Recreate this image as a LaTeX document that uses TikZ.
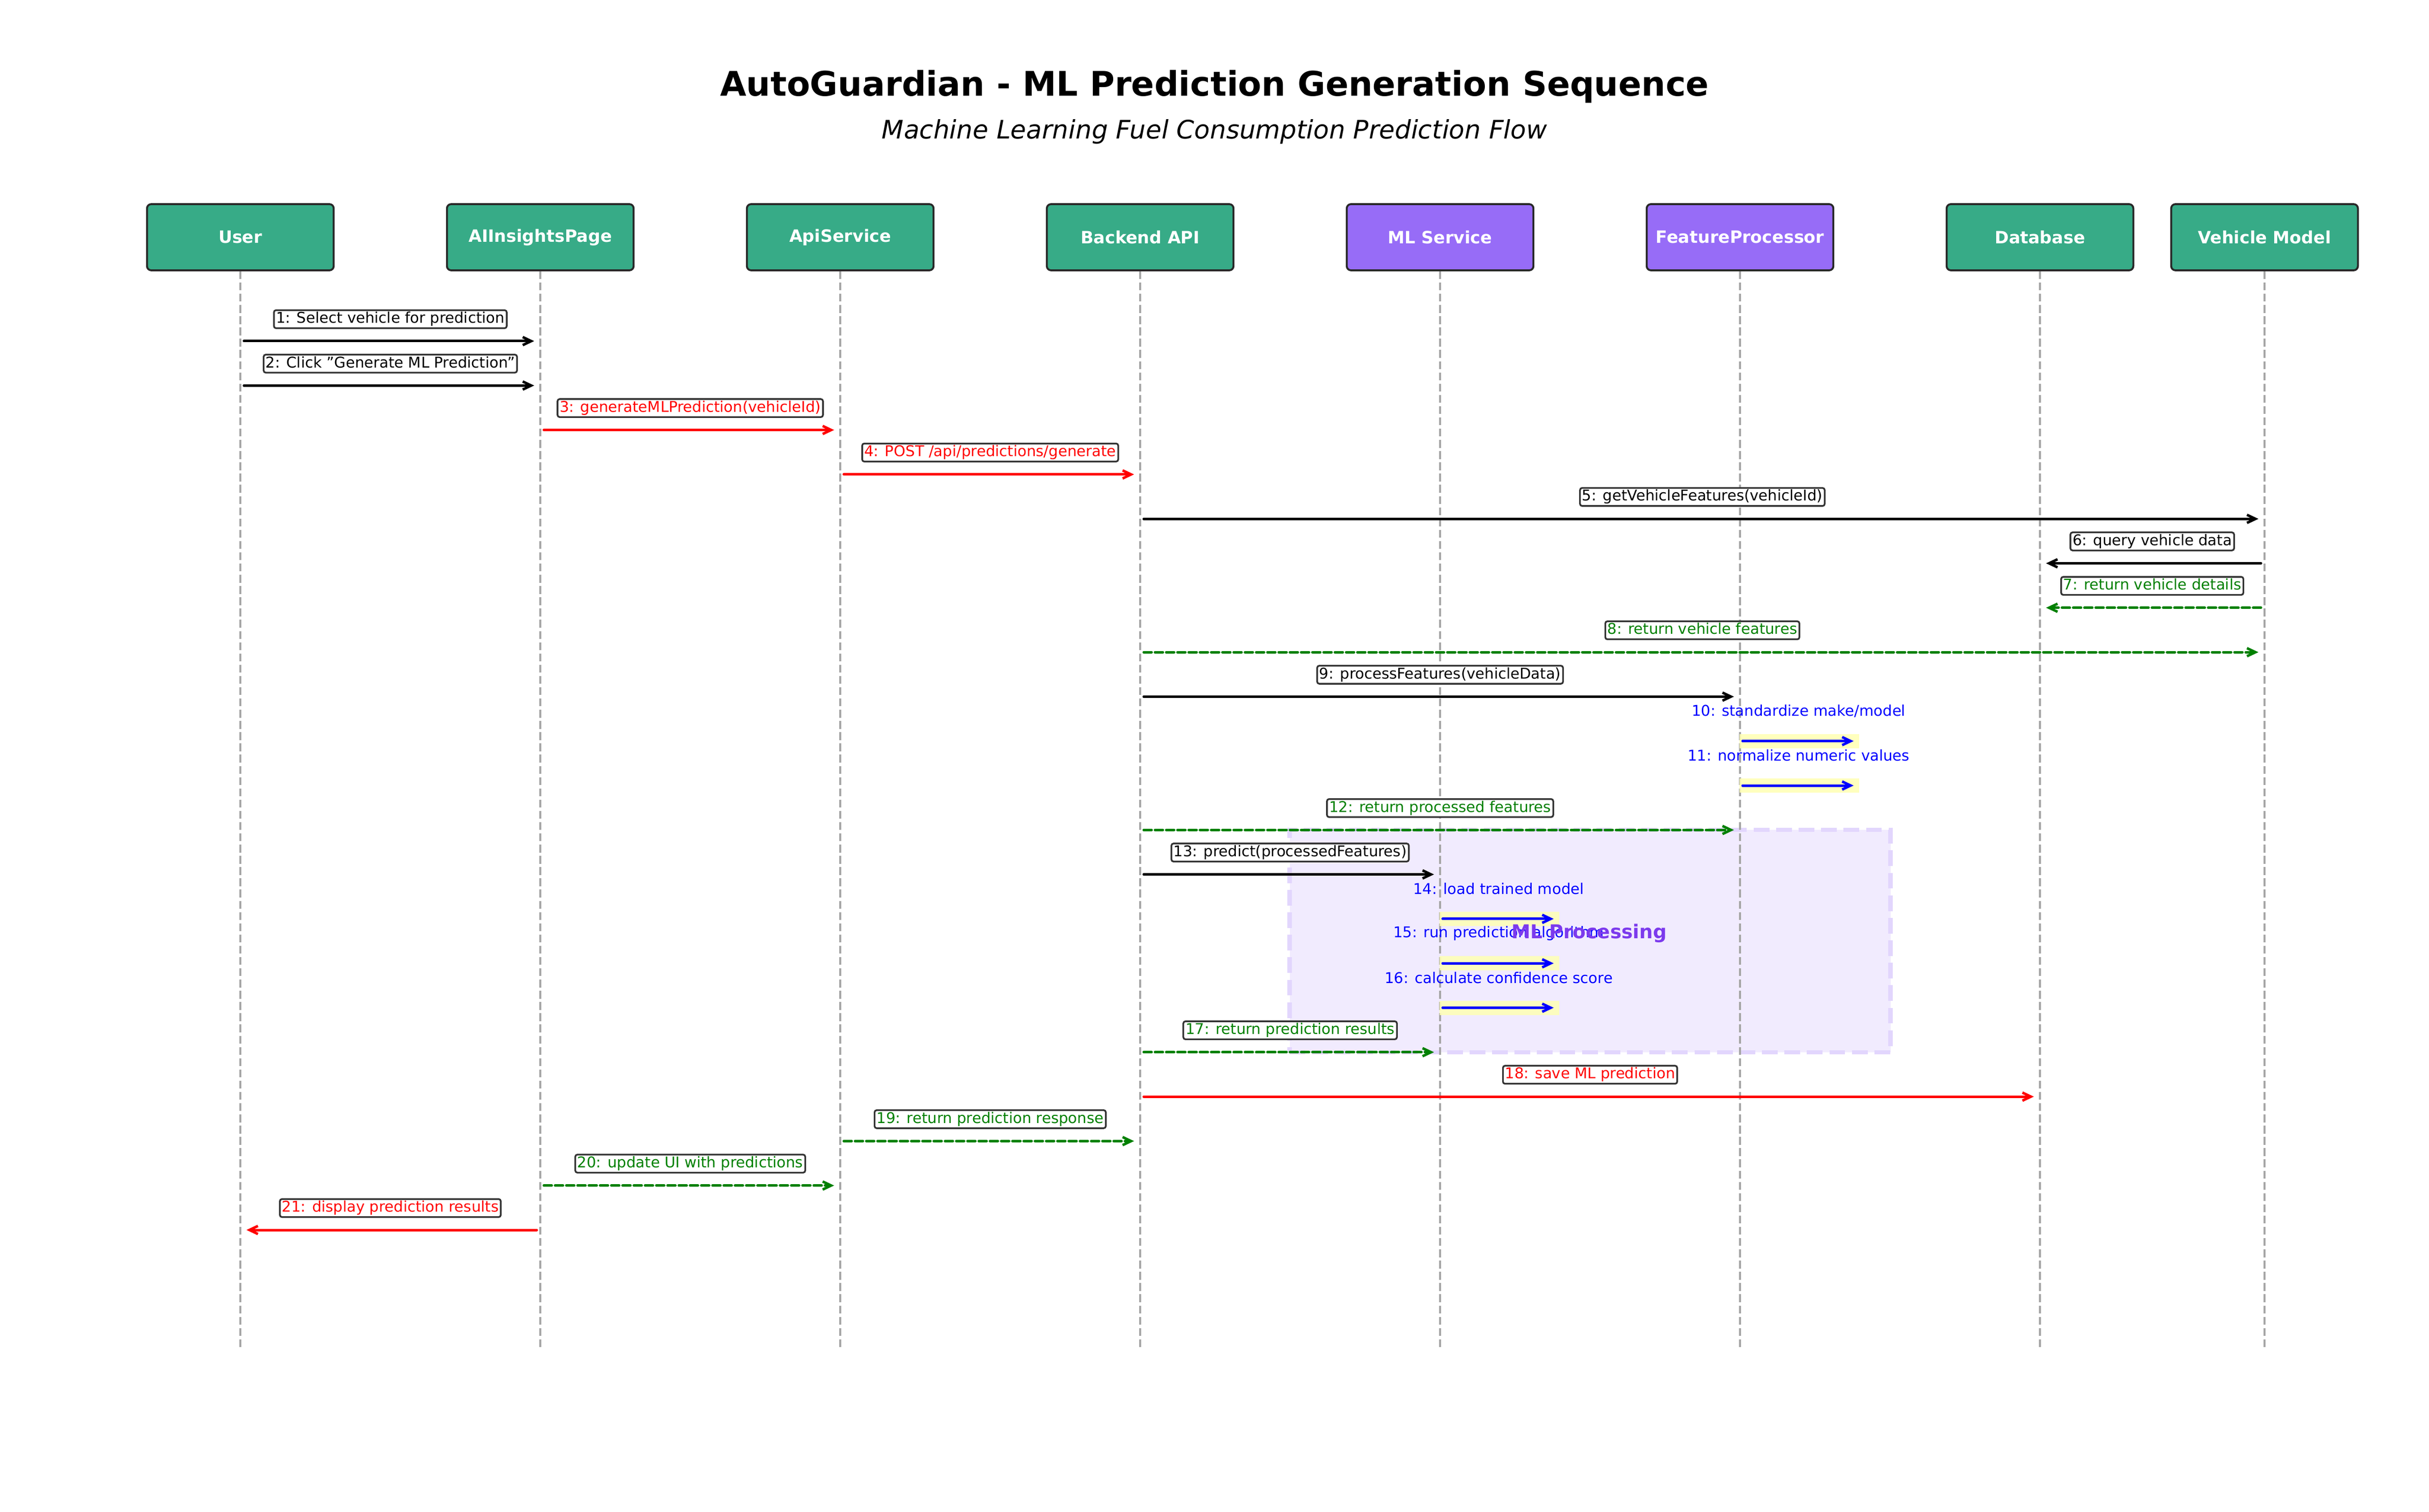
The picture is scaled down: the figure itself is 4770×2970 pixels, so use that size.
\documentclass[tikz,border=0pt]{standalone}
\usepackage{fontspec}
\setmainfont{DejaVu Sans}[BoldFont={DejaVu Sans Bold},ItalicFont={DejaVu Sans Oblique},BoldItalicFont={DejaVu Sans Bold Oblique}]
\usetikzlibrary{arrows.meta}
\definecolor{pgreen}{RGB}{55,171,135}
\definecolor{ppurple}{RGB}{151,108,247}
\definecolor{boxedge}{RGB}{40,40,40}
\definecolor{lifegray}{RGB}{166,166,166}
\definecolor{retgreen}{RGB}{0,128,0}
\definecolor{callred}{RGB}{255,0,0}
\definecolor{selfblue}{RGB}{0,0,255}
\definecolor{labeledge}{RGB}{51,51,51}
\definecolor{mlpurple}{RGB}{139,92,246}
\definecolor{mltext}{RGB}{124,58,237}
\definecolor{hlyellow}{RGB}{255,255,179}

\newcommand\seqmsg[7]{% id, src x, dst x, y, colour, extra style, text
  \pgfmathsetmacro\msgsg{ifthenelse(#3>#2,1,-1)}%
  \pgfmathsetmacro\msgxa{#2+7*\msgsg}%
  \pgfmathsetmacro\msgxb{#3-12*\msgsg}%
  \pgfmathsetmacro\msgxm{(#2+#3)/2}%
  \pgfmathsetmacro\msgyl{#4-43}%
  \coordinate (m#1a) at (\msgxa,#4);%
  \coordinate (m#1b) at (\msgxb,#4);%
  \draw[msgline,draw=#5,#6] (m#1a) -- (m#1b);%
  \node[lbl,text=#5] (t#1) at (\msgxm,\msgyl) {#7};%
}
\newcommand\selfmsg[4]{% id, lifeline x, y, text
  \pgfmathsetmacro\smxa{#2+5}%
  \pgfmathsetmacro\smxb{#2+223}%
  \pgfmathsetmacro\smra{#2-1}%
  \pgfmathsetmacro\smrb{#2+234}%
  \pgfmathsetmacro\smya{#3-14}%
  \pgfmathsetmacro\smyb{#3+14}%
  \pgfmathsetmacro\smlx{#2+115}%
  \pgfmathsetmacro\smly{#3-59}%
  \fill[hlrect] (\smra,\smya) rectangle (\smrb,\smyb);%
  \coordinate (s#1a) at (\smxa,#3);%
  \coordinate (s#1b) at (\smxb,#3);%
  \draw[msgline,draw=selfblue] (s#1a) -- (s#1b);%
  \node[slbl] (t#1) at (\smlx,\smly) {#4};%
}

\begin{document}
\begin{tikzpicture}[x=0.24pt,y=-0.24pt,
  pbox/.style={draw=boxedge,line width=0.9pt,rounded corners=2pt,minimum width=88pt,minimum height=31.2pt,inner sep=0pt,text=white,font=\fontsize{8}{9.6}\selectfont\bfseries},
  lifeline/.style={draw=lifegray,line width=0.85pt,dash pattern=on 3.7pt off 1.6pt},
  msgline/.style={line width=1.2pt,line cap=round,-{Straight Barb[length=4pt,width=3.8pt]}},
  retdash/.style={dash pattern=on 3.7pt off 1.6pt},
  lbl/.style={draw=labeledge,line width=0.8pt,fill=white,rounded corners=1pt,inner xsep=1pt,inner ysep=0.8pt,text height=5.3pt,text depth=1.6pt,font=\fontsize{7}{8}\selectfont},
  slbl/.style={inner sep=0pt,text=selfblue,font=\fontsize{7}{8}\selectfont},
  hlrect/.style={fill=hlyellow,fill opacity=0.85},
  mlbox/.style={draw=mlpurple!25,fill=mlpurple!12,line width=2pt,dash pattern=on 7.4pt off 3.2pt,minimum width=283.2pt,minimum height=104.9pt,inner sep=0pt}
]
\useasboundingbox (0,0) rectangle (4770,2970);
\fill[white] (0,0) rectangle (4770,2970);

\def\LU{472}\def\LA{1061}\def\LS{1650}\def\LB{2239}\def\LM{2828}\def\LF{3417}\def\LD{4006}\def\LV{4447}

% title
\node[font=\fontsize{16}{19}\selectfont\bfseries] (title) at (2385,170) {AutoGuardian - ML Prediction Generation Sequence};
\node[font=\fontsize{12}{14}\selectfont\itshape] (subtitle) at (2385,259) {Machine Learning Fuel Consumption Prediction Flow};

% ML processing region (background)
\node[mlbox] (mlregion) at (3122.5,1848.5) {};

% participants
\node[pbox,fill=pgreen] (user) at (\LU,466) {User};
\node[pbox,fill=pgreen] (aip) at (\LA,466) {AIInsightsPage};
\node[pbox,fill=pgreen] (api) at (\LS,466) {ApiService};
\node[pbox,fill=pgreen] (back) at (\LB,466) {Backend API};
\node[pbox,fill=ppurple] (mls) at (\LM,466) {ML Service};
\node[pbox,fill=ppurple] (fp) at (\LF,466) {FeatureProcessor};
\node[pbox,fill=pgreen] (db) at (\LD,466) {Database};
\node[pbox,fill=pgreen] (vm) at (\LV,466) {Vehicle Model};

% lifelines
\coordinate (userend) at (\LU,2647);
\coordinate (aipend) at (\LA,2647);
\coordinate (apiend) at (\LS,2647);
\coordinate (backend) at (\LB,2647);
\coordinate (mlsend) at (\LM,2647);
\coordinate (fpend) at (\LF,2647);
\coordinate (dbend) at (\LD,2647);
\coordinate (vmend) at (\LV,2647);
\draw[lifeline] (user) -- (userend);
\draw[lifeline] (aip) -- (aipend);
\draw[lifeline] (api) -- (apiend);
\draw[lifeline] (back) -- (backend);
\draw[lifeline] (mls) -- (mlsend);
\draw[lifeline] (fp) -- (fpend);
\draw[lifeline] (db) -- (dbend);
\draw[lifeline] (vm) -- (vmend);

% messages
\seqmsg{1}{\LU}{\LA}{670}{black}{}{1: Select vehicle for prediction}
\seqmsg{2}{\LU}{\LA}{757.3}{black}{}{2: Click "Generate ML Prediction"}
\seqmsg{3}{\LA}{\LS}{844.6}{callred}{}{3: generateMLPrediction(vehicleId)}
\seqmsg{4}{\LS}{\LB}{931.9}{callred}{}{4: POST /api/predictions/generate}
\seqmsg{5}{\LB}{\LV}{1019.2}{black}{}{5: getVehicleFeatures(vehicleId)}
\seqmsg{6}{\LV}{\LD}{1106.5}{black}{}{6: query vehicle data}
\seqmsg{7}{\LV}{\LD}{1193.8}{retgreen}{retdash}{7: return vehicle details}
\seqmsg{8}{\LB}{\LV}{1281.1}{retgreen}{retdash}{8: return vehicle features}
\seqmsg{9}{\LB}{\LF}{1368.4}{black}{}{9: processFeatures(vehicleData)}
\selfmsg{10}{\LF}{1455.7}{10: standardize make/model}
\selfmsg{11}{\LF}{1543}{11: normalize numeric values}
\seqmsg{12}{\LB}{\LF}{1630.3}{retgreen}{retdash}{12: return processed features}
\seqmsg{13}{\LB}{\LM}{1717.6}{black}{}{13: predict(processedFeatures)}
\selfmsg{14}{\LM}{1804.9}{14: load trained model}
\selfmsg{15}{\LM}{1892.2}{15: run prediction algorithm}
\selfmsg{16}{\LM}{1979.5}{16: calculate confidence score}
\seqmsg{17}{\LB}{\LM}{2066.8}{retgreen}{retdash}{17: return prediction results}
\seqmsg{18}{\LB}{\LD}{2154.1}{callred}{}{18: save ML prediction}
\seqmsg{19}{\LS}{\LB}{2241.4}{retgreen}{retdash}{19: return prediction response}
\seqmsg{20}{\LA}{\LS}{2328.7}{retgreen}{retdash}{20: update UI with predictions}
\seqmsg{21}{\LA}{\LU}{2416}{callred}{}{21: display prediction results}

% region label on top
\node[text=mltext,font=\fontsize{9}{11}\selectfont\bfseries] (mllabel) at (3121,1833) {ML Processing};
\end{tikzpicture}
\end{document}
